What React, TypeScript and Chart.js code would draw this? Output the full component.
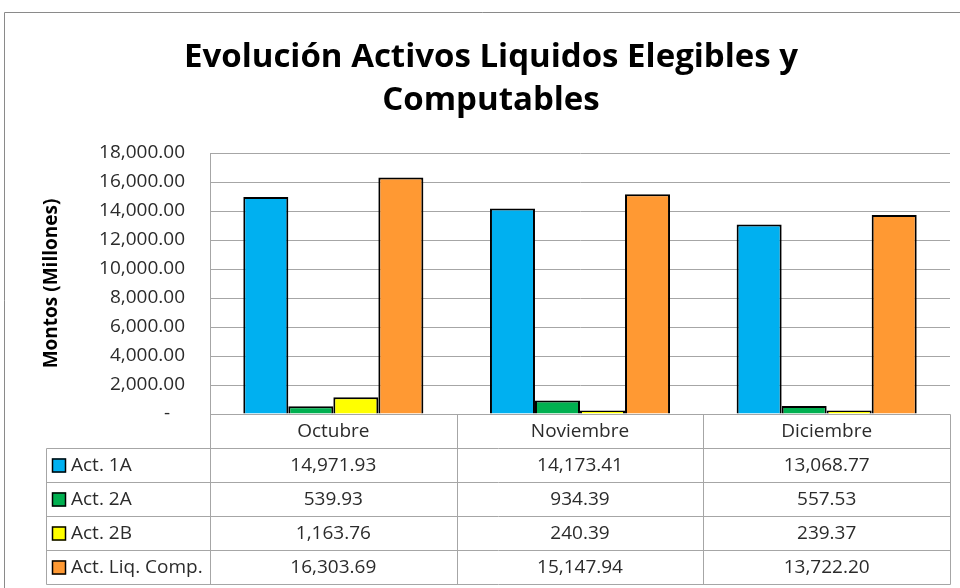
import React, { useEffect, useRef } from "react";
import { Chart, registerables } from "chart.js";

Chart.register(...registerables);

const TITLE_LINES = ["Evolución Activos Liquidos Elegibles y", "Computables"];
const Y_TITLE = "Montos (Millones)";
const CATEGORIES = ["Octubre", "Noviembre", "Diciembre"];
const SERIES_NAMES = ["Act. 1A", "Act. 2A", "Act. 2B", "Act. Liq. Comp."];
const SERIES_COLORS = ["#00B0F0", "#00B050", "#FFFF00", "#FF9933"];
const ACT_1A = [14971.93, 14173.41, 13068.77];
const ACT_2A = [539.93, 934.39, 557.53];
const ACT_2B = [1163.76, 240.39, 239.37];
const ACT_LIQ_COMP = [16303.69, 15147.94, 13722.2];
const SERIES_VALUES = [ACT_1A, ACT_2A, ACT_2B, ACT_LIQ_COMP];
const Y_MIN = 0;
const Y_MAX = 18000;
const Y_STEP = 2000;

const FONT = "'Open Sans', 'Noto Sans', sans-serif";
const TEXT_COLOR = "#2b2b2b";
const LINE_COLOR = "#a6a6a6";

const fmt = (v: number) =>
  v.toLocaleString("en-US", { minimumFractionDigits: 2, maximumFractionDigits: 2 });

const framePlugin = {
  id: "frameAndTitle",
  beforeDraw(chart: any) {
    const { ctx, width, height } = chart;
    ctx.save();
    ctx.fillStyle = "#ffffff";
    ctx.fillRect(0, 0, width, height);
    ctx.strokeStyle = "#8a8a8a";
    ctx.lineWidth = 1;
    ctx.beginPath();
    ctx.moveTo(4.5, height);
    ctx.lineTo(4.5, 12.5);
    ctx.lineTo(width, 12.5);
    ctx.stroke();
    ctx.restore();
  },
  afterDraw(chart: any) {
    const { ctx } = chart;
    ctx.save();
    ctx.fillStyle = "#000000";
    ctx.font = `bold 33px ${FONT}`;
    ctx.textAlign = "center";
    ctx.textBaseline = "alphabetic";
    const cx = 491;
    ctx.fillText(TITLE_LINES[0], cx, 67);
    ctx.fillText(TITLE_LINES[1], cx, 110);
    ctx.restore();
  },
};

const tablePlugin = {
  id: "dataTable",
  afterDraw(chart: any) {
    const { ctx, chartArea } = chart;
    const left = Math.round(chartArea.left) + 0.5;
    const right = Math.round(chartArea.right) + 0.5;
    const top = Math.round(chartArea.bottom) + 0.5;
    const rowH = 34;
    const nRows = SERIES_NAMES.length + 1;
    const bottom = top + rowH * nRows;
    const legendLeft = 46.5;
    const catW = (chartArea.right - chartArea.left) / CATEGORIES.length;

    ctx.save();
    ctx.strokeStyle = LINE_COLOR;
    ctx.lineWidth = 1;
    ctx.beginPath();
    for (let r = 0; r <= nRows; r++) {
      const y = top + r * rowH;
      ctx.moveTo(r === 0 ? left : legendLeft, y);
      ctx.lineTo(right, y);
    }
    ctx.moveTo(left, top);
    ctx.lineTo(left, bottom);
    ctx.moveTo(legendLeft, top + rowH);
    ctx.lineTo(legendLeft, bottom);
    for (let i = 1; i <= CATEGORIES.length; i++) {
      const x = Math.round(chartArea.left + i * catW) + 0.5;
      ctx.moveTo(x, top);
      ctx.lineTo(x, bottom);
    }
    ctx.stroke();

    ctx.fillStyle = TEXT_COLOR;
    ctx.font = `19px ${FONT}`;
    ctx.textBaseline = "middle";
    ctx.textAlign = "center";
    const xs = chart.scales.x;
    CATEGORIES.forEach((c, i) => {
      ctx.fillText(c, xs.getPixelForValue(i), top + rowH / 2);
    });
    SERIES_NAMES.forEach((name, s) => {
      const cy = top + rowH * (s + 1) + rowH / 2;
      ctx.fillStyle = SERIES_COLORS[s];
      ctx.fillRect(52, cy - 7, 14, 14);
      ctx.strokeStyle = "#000000";
      ctx.lineWidth = 1.5;
      ctx.strokeRect(52.5, cy - 6.5, 13, 13);
      ctx.fillStyle = TEXT_COLOR;
      ctx.textAlign = "left";
      ctx.fillText(name, 71, cy);
      ctx.textAlign = "center";
      SERIES_VALUES[s].forEach((v, i) => {
        ctx.fillText(fmt(v), xs.getPixelForValue(i), cy);
      });
    });
    ctx.restore();
  },
};

export default function App() {
  const canvasRef = useRef<HTMLCanvasElement | null>(null);

  useEffect(() => {
    const canvas = canvasRef.current;
    if (!canvas) return;
    const chart = new Chart(canvas, {
      type: "bar",
      data: {
        labels: CATEGORIES,
        datasets: SERIES_NAMES.map((name, s) => ({
          label: name,
          data: SERIES_VALUES[s],
          backgroundColor: SERIES_COLORS[s],
          borderColor: "#000000",
          borderWidth: 2,
          categoryPercentage: 0.73,
          barPercentage: 1,
        })),
      },
      options: {
        responsive: false,
        animation: false,
        devicePixelRatio: 1,
        layout: { padding: { top: 153, bottom: 174, left: 0, right: 10 } },
        plugins: {
          legend: { display: false },
          title: { display: false },
          tooltip: { enabled: false },
        },
        scales: {
          x: {
            display: false,
          },
          y: {
            min: Y_MIN,
            max: Y_MAX,
            afterFit: (scale: any) => {
              scale.width = 210;
            },
            ticks: {
              stepSize: Y_STEP,
              padding: 25,
              color: TEXT_COLOR,
              font: { family: FONT, size: 19 },
              callback: (v: any) => (Number(v) === 0 ? "-   " : fmt(Number(v))),
            },
            grid: { color: LINE_COLOR, drawTicks: false, lineWidth: 1 },
            border: { display: true, color: LINE_COLOR },
            title: {
              display: true,
              text: Y_TITLE,
              color: "#000000",
              font: { family: FONT, size: 19, weight: "bold" },
              padding: { top: 40, bottom: 0 },
            },
          },
        },
      },
      plugins: [framePlugin, tablePlugin],
    });
    return () => chart.destroy();
  }, []);

  return (
    <div
      style={{
        position: "fixed",
        left: 0,
        top: 0,
        width: 960,
        height: 588,
        background: "#ffffff",
        overflow: "hidden",
      }}
    >
      <canvas ref={canvasRef} width={960} height={588} style={{ display: "block" }} />
    </div>
  );
}
